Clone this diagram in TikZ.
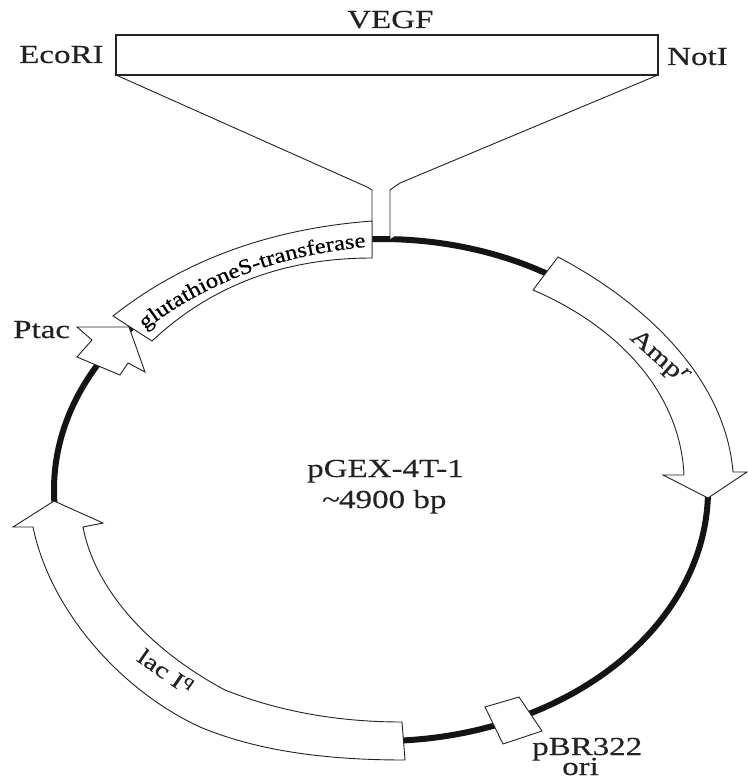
\documentclass[tikz,border=0pt]{standalone}
\usepackage{fontspec}
\usetikzlibrary{decorations.text}
\setmainfont[FakeStretch=1.27,FakeBold=0.25]{Liberation Serif}
\newfontfamily\gstfont[FakeStretch=1.15,FakeBold=0.5]{Liberation Serif}
\definecolor{ink}{HTML}{222222}
\tikzset{
  lbl/.style={anchor=base west,inner sep=0pt,text=ink,font=\fontsize{26}{28}\selectfont},
  part/.style={draw=ink,line width=0.9pt,fill=white,line join=miter},
  boxline/.style={draw=ink,line width=1.2pt,line join=miter},
  backbone/.style={draw=ink!60!black,line width=6pt}
}
\begin{document}
\begin{tikzpicture}[x=1pt,y=-1pt]
\useasboundingbox (0,0) rectangle (747,778);
\fill[white] (0,0) rectangle (747,778);
% backbone
\draw[backbone] (381,490) ellipse [x radius=327,y radius=251];
% insert box and funnel
\coordinate (boxTL) at (116,35);
\coordinate (boxBR) at (658,75);
\coordinate (boxBL) at (116,75);
\draw[boxline,fill=white] (boxTL) rectangle (boxBR);
\coordinate (leftNeck) at (372,190);
\coordinate (rightNeck) at (390,190);
\coordinate (leftFoot) at (372,258);
\coordinate (rightFoot) at (390,239);
\draw[part] (boxBL) -- (367,187) -- (leftNeck) -- (leftFoot);
\draw[part] (boxBR) -- (400,183) -- (rightNeck) -- (rightFoot);
% GST
\draw[part] (372,221) .. controls (280,228) and (190,255) .. (113,316)
  -- (152,341) .. controls (215,282) and (290,258) .. (372,258) -- cycle;
\path[decorate,decoration={text along path,text align=center,
  text={|\fontsize{21.4}{23}\gstfont|glutathioneS-transferase}}]
  (145,330) .. controls (205,283) and (280,255) .. (366,247);
% Ptac
\draw[part] (77,327) -- (129,327) -- (145,372) -- (128,363) -- (120,375) -- (77,357) -- (92,340) -- cycle;
% Amp
\draw[part] (558,257) .. controls (640,300) and (725,375) .. (733,472)
  -- (747,472) -- (708,498) -- (663,475) -- (684,475)
  .. controls (680,390) and (615,325) .. (533,290) -- cycle;
% lac
\draw[part] (54,501) -- (13,527) -- (33,527)
  .. controls (50,610) and (120,690) .. (200,727)
  .. controls (260,752) and (330,760) .. (405,760)
  -- (402,722)
  .. controls (340,722) and (280,712) .. (225,690)
  .. controls (150,650) and (95,590) .. (83,527)
  -- (103,523) -- cycle;
% ori
\draw[part] (485,707) -- (519,697) -- (542,731) -- (503,744) -- cycle;
% labels
\node[lbl] (vegf) at (347,28) {VEGF};
\node[lbl] (ecori) at (19,63) {EcoRI};
\node[lbl] (noti) at (667,65) {NotI};
\node[lbl] (ptac) at (13,338) {Ptac};
\node[lbl] (name) at (307,477) {pGEX-4T-1};
\node[lbl] (size) at (322,508) {\~{}\kern-1pt 4900 bp};
\node[lbl] (pbr) at (532,755) {pBR322};
\node[lbl] (ori) at (562,775) {ori};
\node[lbl,anchor=base,rotate=-42,font=\fontsize{24}{26}\selectfont] (amp) at (655,362) {Amp\textsuperscript{\itshape r}};
\node[lbl,anchor=base,rotate=-35,font=\fontsize{23}{25}\selectfont] (lac) at (161,678) {lac I\textsuperscript{q}};
\end{tikzpicture}
\end{document}
